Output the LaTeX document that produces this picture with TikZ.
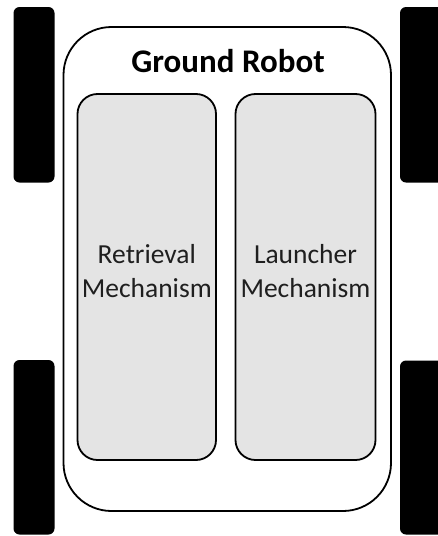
\documentclass[tikz,border=0pt]{standalone}
\usepackage{fontspec}
\setmainfont{Carlito}
\begin{document}
\begin{tikzpicture}[x=1pt,y=-1pt,
  wheel/.style={fill=black,draw=none,rounded corners=6pt},
  chassis/.style={draw=black,line width=1.8pt,rounded corners=48pt,fill=white},
  module/.style={draw=black,line width=1.8pt,rounded corners=20pt,fill=boxgray},
  lbl/.style={font=\fontsize{27.5}{34}\selectfont,align=center,text=black!88},
  title/.style={font=\fontsize{33}{40}\selectfont\bfseries,text=black}]
\definecolor{boxgray}{HTML}{E4E4E4}
\useasboundingbox (0,0) rectangle (438,536);
\clip (0,0) rectangle (438,536);
% wheels
\draw[wheel] (13.5,7) rectangle (54.5,182.5);
\draw[wheel] (13.5,360) rectangle (54.5,534.5);
\draw[wheel] (400,7) rectangle (446,182.5);
\draw[wheel] (400,360.5) rectangle (446,534.5);
% chassis
\draw[chassis] (63.5,27) rectangle (391,511);
\node[title] (title) at (228,61) {Ground Robot};
% modules
\draw[module] (77.5,94) rectangle (216,460);
\draw[module] (235.5,94) rectangle (375.5,460);
\node[lbl] (retr) at (146.8,271) {Retrieval\\Mechanism};
\node[lbl] (laun) at (305.5,271) {Launcher\\Mechanism};
\end{tikzpicture}
\end{document}
